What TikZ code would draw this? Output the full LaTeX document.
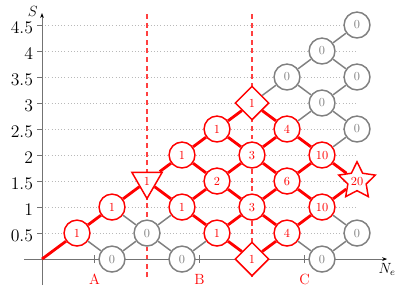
\documentclass[tikz,border=0pt]{standalone}
\usetikzlibrary{arrows.meta,positioning,shapes.geometric}

\begin{document}
\begin{tikzpicture}[x=1cm, y=1.486cm,
  rn/.style={circle, draw=red, fill=white, text=red, line width=1.2pt, minimum size=0.74cm, inner sep=0pt, font=\normalsize},
  gn/.style={circle, draw=gray, fill=white, text=gray, line width=1.2pt, minimum size=0.74cm, inner sep=0pt, font=\normalsize},
  rtri/.style={regular polygon, regular polygon sides=3, shape border rotate=180, draw=red, fill=white, text=red, line width=1.2pt, minimum size=1.0cm, inner sep=0pt, font=\normalsize},
  rdia/.style={diamond, draw=red, fill=white, text=red, line width=1.2pt, minimum size=0.97cm, inner sep=0pt, font=\normalsize},
  rstar/.style={star, star points=5, star point ratio=2, draw=red, fill=white, text=red, line width=1.2pt, minimum size=1.1cm, inner sep=0pt, font=\normalsize},
  redge/.style={red, line width=2.3pt},
  gedge/.style={gray, line width=1.2pt}]
\useasboundingbox (-1.2,-0.654) rectangle (10.457,4.981);

% Grille
\foreach \y in {0.5,1,1.5,2,2.5,3,3.5,4,4.5}
  \draw[gray!55, dotted, line width=0.6pt] (0,\y) -- (9,\y);

% Separations
\draw[red!75, line width=1.2pt, dash pattern=on 4pt off 3pt] (3,-0.35) -- (3,4.73);
\draw[red!75, line width=1.2pt, dash pattern=on 4pt off 3pt] (6,-0.35) -- (6,4.73);

% Axes
\draw[gray!90!black, line width=0.6pt, -{Stealth[black, length=4pt]}] (-0.51,0) -- (9.86,0) node[below, black, font=\large] {$N_e$};
\draw[gray!90!black, line width=0.6pt, -{Stealth[black, length=4pt]}] (0,-0.5) -- (0,4.73) node[left, black, font=\large, yshift=1pt] {$S$};
\foreach \y in {0.5,1,1.5,2,2.5,3,3.5,4,4.5}
  \draw[gray!90!black, line width=0.6pt] (-0.13,\y) -- (0,\y) node[left, black, xshift=-0.13cm, yshift=-2.5pt, font=\Large] {$\y$};
\foreach \x in {1.5,4.5,7.5}
  \draw[gray!90!black, line width=0.6pt] (\x,-0.08) -- (\x,0.08);
\node[red, font=\large] at (1.5,-0.385) {A};
\node[red, font=\large] at (4.5,-0.385) {B};
\node[red, font=\large] at (7.5,-0.385) {C};

% Noeuds
\coordinate (o) at (0,0);
\node[rn] (n1-1) at (1,0.5) {1};
\node[rn] (n2-2) at (2,1) {1};
\node[gn] (n2-0) at (2,0) {0};
\node[rtri] (n3-3) at (3,1.5) {1};
\node[gn] (n3-1) at (3,0.5) {0};
\node[rn] (n4-4) at (4,2) {1};
\node[rn] (n4-2) at (4,1) {1};
\node[gn] (n4-0) at (4,0) {0};
\node[rn] (n5-5) at (5,2.5) {1};
\node[rn] (n5-3) at (5,1.5) {2};
\node[rn] (n5-1) at (5,0.5) {1};
\node[rdia] (n6-6) at (6,3) {1};
\node[rn] (n6-4) at (6,2) {3};
\node[rn] (n6-2) at (6,1) {3};
\node[rdia] (n6-0) at (6,0) {1};
\node[gn] (n7-7) at (7,3.5) {0};
\node[rn] (n7-5) at (7,2.5) {4};
\node[rn] (n7-3) at (7,1.5) {6};
\node[rn] (n7-1) at (7,0.5) {4};
\node[gn] (n8-8) at (8,4) {0};
\node[gn] (n8-6) at (8,3) {0};
\node[rn] (n8-4) at (8,2) {10};
\node[rn] (n8-2) at (8,1) {10};
\node[gn] (n8-0) at (8,0) {0};
\node[gn] (n9-9) at (9,4.5) {0};
\node[gn] (n9-7) at (9,3.5) {0};
\node[gn] (n9-5) at (9,2.5) {0};
\node[rstar] (n9-3) at (9,1.5) {20};
\node[gn] (n9-1) at (9,0.5) {0};

% Chemins nuls
\draw[gedge] (n1-1) -- (n2-0);
\draw[gedge] (n2-2) -- (n3-1);
\draw[gedge] (n2-0) -- (n3-1);
\draw[gedge] (n3-1) -- (n4-2);
\draw[gedge] (n3-1) -- (n4-0);
\draw[gedge] (n4-0) -- (n5-1);
\draw[gedge] (n6-6) -- (n7-7);
\draw[gedge] (n7-7) -- (n8-8);
\draw[gedge] (n7-7) -- (n8-6);
\draw[gedge] (n7-5) -- (n8-6);
\draw[gedge] (n7-1) -- (n8-0);
\draw[gedge] (n8-8) -- (n9-9);
\draw[gedge] (n8-8) -- (n9-7);
\draw[gedge] (n8-6) -- (n9-7);
\draw[gedge] (n8-6) -- (n9-5);
\draw[gedge] (n8-4) -- (n9-5);
\draw[gedge] (n8-2) -- (n9-1);
\draw[gedge] (n8-0) -- (n9-1);

% Chemins comptes
\draw[redge] (o) -- (n1-1);
\draw[redge] (n1-1) -- (n2-2);
\draw[redge] (n2-2) -- (n3-3);
\draw[redge] (n3-3) -- (n4-4);
\draw[redge] (n3-3) -- (n4-2);
\draw[redge] (n4-4) -- (n5-5);
\draw[redge] (n4-4) -- (n5-3);
\draw[redge] (n4-2) -- (n5-3);
\draw[redge] (n4-2) -- (n5-1);
\draw[redge] (n5-5) -- (n6-6);
\draw[redge] (n5-5) -- (n6-4);
\draw[redge] (n5-3) -- (n6-4);
\draw[redge] (n5-3) -- (n6-2);
\draw[redge] (n5-1) -- (n6-2);
\draw[redge] (n5-1) -- (n6-0);
\draw[redge] (n6-6) -- (n7-5);
\draw[redge] (n6-4) -- (n7-5);
\draw[redge] (n6-4) -- (n7-3);
\draw[redge] (n6-2) -- (n7-3);
\draw[redge] (n6-2) -- (n7-1);
\draw[redge] (n6-0) -- (n7-1);
\draw[redge] (n7-5) -- (n8-4);
\draw[redge] (n7-3) -- (n8-4);
\draw[redge] (n7-3) -- (n8-2);
\draw[redge] (n7-1) -- (n8-2);
\draw[redge] (n8-4) -- (n9-3);
\draw[redge] (n8-2) -- (n9-3);
\end{tikzpicture}
\end{document}
